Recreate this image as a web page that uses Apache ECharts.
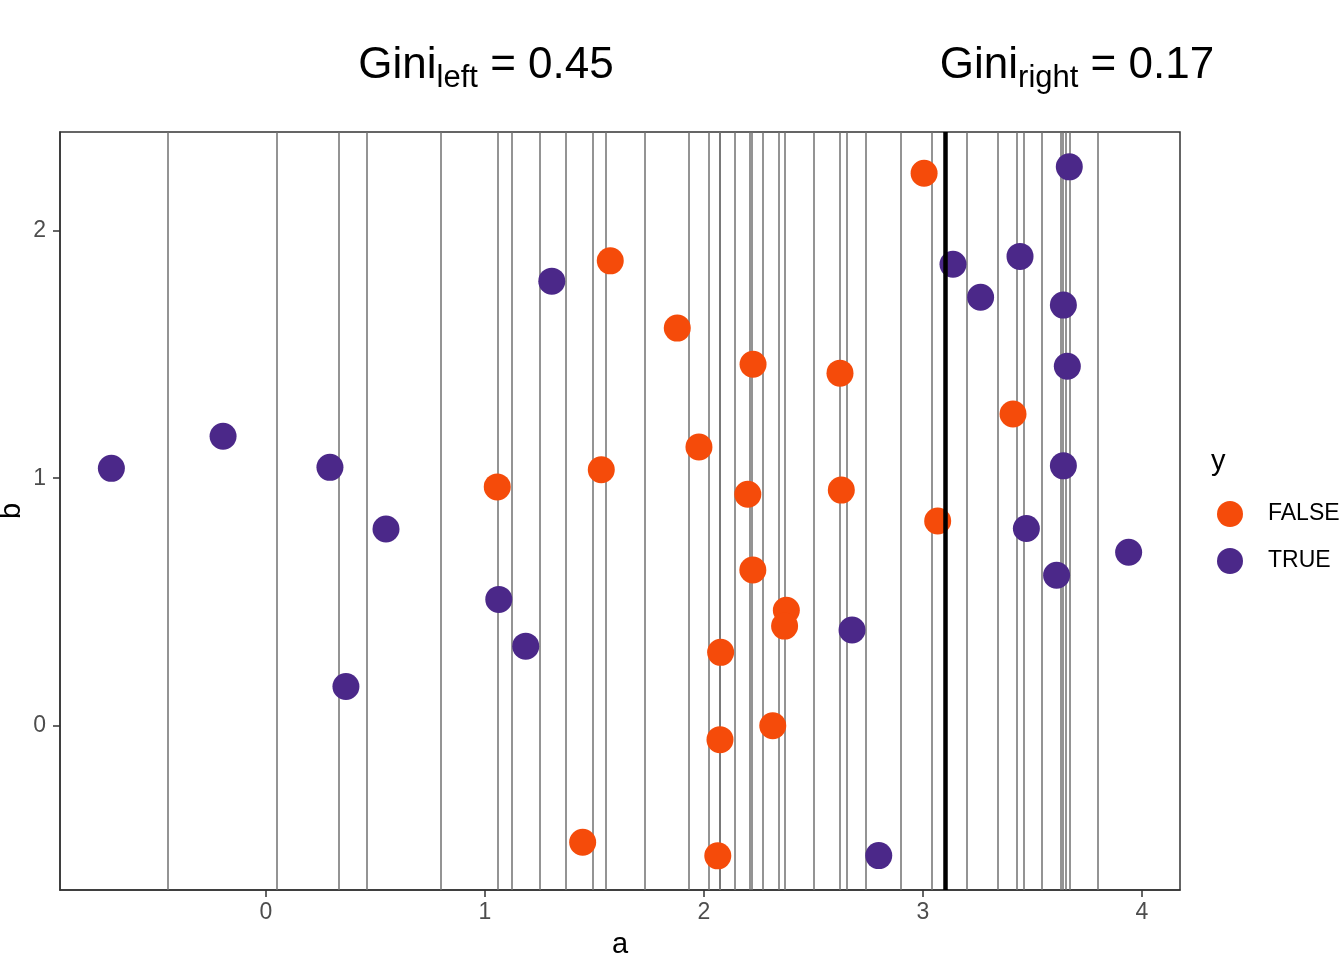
<!DOCTYPE html>
<html>
<head>
<meta charset="utf-8">
<title>Gini split</title>
<script src="https://cdn.jsdelivr.net/npm/echarts@6.0.0/dist/echarts.min.js"></script>
<style>
    html, body { margin: 0; padding: 0; background: #ffffff; }
    #main { width: 1344px; height: 960px; }
</style>
</head>
<body>
<div id="main"></div>
<script>
// points, y = FALSE
var falseA = [1.056, 1.446, 1.531, 1.572, 1.878, 1.977, 2.063, 2.073, 2.076, 2.200,
              2.224, 2.223, 2.314, 2.376, 2.368, 2.621, 2.627, 3.005, 3.067, 3.411];
var falseB = [0.965, -0.472, 1.034, 1.879, 1.607, 1.126, -0.527, -0.057, 0.296, 0.935,
              1.461, 0.629, -0.001, 0.466, 0.402, 1.425, 0.952, 2.233, 0.827, 1.260];
// points, y = TRUE
var trueA = [-0.706, -0.196, 0.292, 0.548, 0.365, 1.063, 1.186, 1.305, 2.676, 2.798,
             3.137, 3.263, 3.443, 3.472, 3.610, 3.641, 3.659, 3.641, 3.668, 3.939];
var trueB = [1.040, 1.170, 1.044, 0.795, 0.158, 0.510, 0.321, 1.797, 0.386, -0.526,
             1.865, 1.732, 1.897, 0.797, 0.608, 1.700, 1.453, 1.050, 2.259, 0.701];
// candidate splits (thin lines) and the chosen one (thick line)
var splits = [-0.452, 0.049, 0.329, 0.457, 0.804, 1.061, 1.123, 1.245, 1.374, 1.490,
              1.551, 1.726, 1.928, 2.021, 2.067, 2.071, 2.137, 2.213, 2.219, 2.268,
              2.342, 2.373, 2.499, 2.624, 2.652, 2.737, 2.901, 3.037, 3.102, 3.200,
              3.336, 3.429, 3.458, 3.543, 3.629, 3.641, 3.653, 3.665, 3.804];
var bestSplit = 3.102;
var xTicks = [0, 1, 2, 3, 4];
var yTicks = [0, 1, 2];
var giniLeft = '0.45';
var giniRight = '0.17';

var fontName = 'Liberation Sans, Arial, sans-serif';
var colFalse = '#F54B0A';
var colTrue = '#4B2889';

function pairs(a, b) {
    var out = [];
    for (var i = 0; i < a.length; i++) {
        out.push([a[i], b[i]]);
    }
    return out;
}

// main text + subscript
var richTitle = {
    m: { fontSize: 44, fontWeight: 'normal', fontFamily: fontName, color: '#000', lineHeight: 50, verticalAlign: 'top' },
    s: { fontSize: 31, fontWeight: 'normal', fontFamily: fontName, color: '#000', lineHeight: 30, verticalAlign: 'bottom' }
};

var myChart = echarts.init(document.getElementById('main'));

var option = {
    animation: false,
    backgroundColor: '#ffffff',
    textStyle: { fontFamily: fontName },
    title: [
        {
            text: '{m|Gini}{s|left}{m| = ' + giniLeft + '}',
            left: 481, top: 39, textAlign: 'center',
            textStyle: { rich: richTitle, fontWeight: 'normal', height: 68 }
        },
        {
            text: '{m|Gini}{s|right}{m| = ' + giniRight + '}',
            left: 1072, top: 39, textAlign: 'center',
            textStyle: { rich: richTitle, fontWeight: 'normal', height: 68 }
        },
        {
            text: 'y',
            left: 1206, top: 442,
            textStyle: { fontSize: 29, fontWeight: 'normal', color: '#000', fontFamily: fontName }
        }
    ],
    legend: {
        data: ['FALSE', 'TRUE'],
        orient: 'vertical',
        left: 1212,
        top: 496,
        itemWidth: 40,
        itemHeight: 26,
        itemGap: 21,
        selectedMode: false,
        textStyle: { fontSize: 23, color: '#000', fontFamily: fontName, padding: [0, 0, 0, 13] }
    },
    grid: {
        left: 60, right: 164, top: 132, bottom: 70,
        outerBoundsMode: 'none',
        containLabel: false,
        show: true,
        borderColor: '#333333',
        borderWidth: 1.5
    },
    xAxis: {
        type: 'value',
        min: -0.9406,
        max: 4.1735,
        name: 'a',
        nameLocation: 'middle',
        nameGap: 40,
        nameMoveOverlap: false,
        nameTextStyle: { fontSize: 29, color: '#000', fontFamily: fontName },
        splitLine: { show: false },
        axisLine: { show: true, onZero: false, lineStyle: { color: '#333333', width: 1.5 } },
        axisTick: { show: true, length: 7, customValues: xTicks, lineStyle: { color: '#333333', width: 1.5 } },
        axisLabel: { customValues: xTicks, fontSize: 23, color: '#4d4d4d', margin: 11, fontFamily: fontName }
    },
    yAxis: {
        type: 'value',
        min: -0.665,
        max: 2.400,
        name: 'b',
        nameLocation: 'middle',
        nameGap: 34,
        nameMoveOverlap: false,
        nameTextStyle: { fontSize: 29, color: '#000', fontFamily: fontName },
        splitLine: { show: false },
        axisLine: { show: true, onZero: false, lineStyle: { color: '#333333', width: 1.5 } },
        axisTick: { show: true, length: 7, customValues: yTicks, lineStyle: { color: '#333333', width: 1.5 } },
        axisLabel: { customValues: yTicks, fontSize: 23, color: '#4d4d4d', margin: 14, fontFamily: fontName }
    },
    series: [
        {
            name: 'splits',
            type: 'line',
            data: [],
            markLine: {
                silent: true,
                z: 1,
                symbol: ['none', 'none'],
                label: { show: false },
                lineStyle: { color: '#707070', width: 1.5, type: 'solid' },
                emphasis: { disabled: true },
                data: splits.map(function (v) { return { xAxis: v }; })
            }
        },
        {
            name: 'FALSE',
            type: 'scatter',
            z: 3,
            symbol: 'circle',
            symbolSize: 27,
            itemStyle: { color: colFalse, opacity: 1 },
            emphasis: { disabled: true },
            data: pairs(falseA, falseB)
        },
        {
            name: 'TRUE',
            type: 'scatter',
            z: 3,
            symbol: 'circle',
            symbolSize: 27,
            itemStyle: { color: colTrue, opacity: 1 },
            emphasis: { disabled: true },
            data: pairs(trueA, trueB)
        },
        {
            name: 'best',
            type: 'line',
            data: [],
            markLine: {
                silent: true,
                z: 6,
                symbol: ['none', 'none'],
                label: { show: false },
                lineStyle: { color: '#000000', width: 4.5, type: 'solid' },
                emphasis: { disabled: true },
                data: [{ xAxis: bestSplit }]
            }
        }
    ]
};
myChart.setOption(option, true);
</script>
</body>
</html>
